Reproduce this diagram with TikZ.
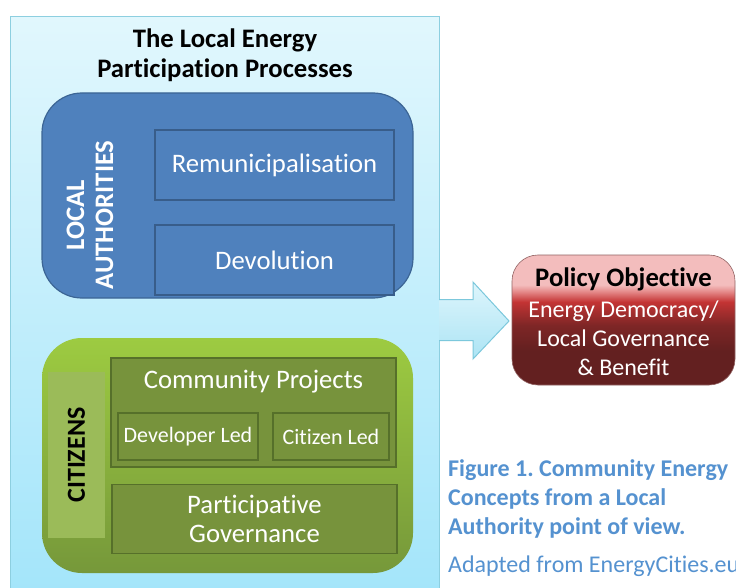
\documentclass[tikz,border=0pt]{standalone}
\usepackage{fontspec}
\setmainfont{Carlito}[Ligatures={NoCommon}]
\usetikzlibrary{calc}
\frenchspacing

\definecolor{outertop}{HTML}{E1F7FD}
\definecolor{outerbot}{HTML}{A3E5FA}
\definecolor{outerline}{HTML}{8DCFE0}
\definecolor{lablue}{HTML}{4F81BD}
\definecolor{labluedark}{HTML}{3C6595}
\definecolor{laboxline}{HTML}{385D8A}
\definecolor{greentop}{HTML}{9DCB41}
\definecolor{greenbot}{HTML}{76983A}
\definecolor{citstrip}{HTML}{9BBB59}
\definecolor{olive}{HTML}{77933C}
\definecolor{oliveline}{HTML}{56702A}
\definecolor{arrowtop}{HTML}{DDF5FC}
\definecolor{arrowbot}{HTML}{ACE4F4}
\definecolor{arrowline}{HTML}{7CC8DC}
\definecolor{pdark}{HTML}{632020}
\definecolor{pmid}{HTML}{7E2626}
\definecolor{pred}{HTML}{C43434}
\definecolor{ppinkb}{HTML}{E58A8A}
\definecolor{ppink}{HTML}{F3BDBD}
\definecolor{captionblue}{HTML}{5592D0}

% glossy red fill of the objective box (bottom to top)
\pgfdeclareverticalshading{policyshade}{100bp}{color(0bp)=(pdark); color(25bp)=(pdark); color(38bp)=(pdark); color(48bp)=(pmid); color(57bp)=(pred); color(61bp)=(ppinkb); color(63.5bp)=(ppink); color(100bp)=(ppink)}

\tikzset{
  box/.style={rectangle, inner sep=0pt, outer sep=0pt},
  body/.style={font=\fontsize{26.7}{29}\selectfont, align=center},
  bodybold/.style={body, font=\bfseries\fontsize{26.7}{29}\selectfont},
  labox/.style={box, draw=laboxline, line width=1.2pt, fill=lablue,
    text=white, body},
  olivebox/.style={box, draw=oliveline, line width=1.2pt, fill=olive,
    text=white, body},
  smallolive/.style={olivebox, font=\fontsize{22}{26}\selectfont},
  caption/.style={anchor=west, align=left, inner sep=0pt, text=captionblue},
}

\begin{document}
\begin{tikzpicture}[x=1pt, y=-1pt]
\useasboundingbox (0,0) rectangle (736,588);
\fill[white] (0,0) rectangle (736,588);

% outer panel
\node[box, draw=outerline, line width=1pt, top color=outertop, bottom color=outerbot,
  minimum width=429pt, minimum height=583pt] (outer) at (224.5,308.5) {};
\node[bodybold, font=\bfseries\fontsize{26.7}{30}\selectfont] (title) at (225,55)
  {The Local Energy\\Participation Processes};

% local authorities group
\node[box, draw=labluedark, line width=1.2pt, fill=lablue, rounded corners=40pt,
  minimum width=371pt, minimum height=205pt] (la) at (227.5,195.5) {};
\node[bodybold, text=white, rotate=90] (latext) at (90,215) {LOCAL\\AUTHORITIES};
\node[labox, minimum width=239pt, minimum height=70pt] (remun) at (274.5,165)
  {Remunicipalisation};
\node[labox, minimum width=239pt, minimum height=70pt] (devol) at (274.5,260)
  {Devolution};

% citizens group
\node[box, top color=greentop, bottom color=greenbot, rounded corners=40pt,
  minimum width=371pt, minimum height=235pt] (cit) at (227.5,455.5) {};
\node[box, fill=citstrip, minimum width=57pt, minimum height=166pt]
  (citstrip) at (76.5,455) {};
\node[bodybold, font=\bfseries\fontsize{26}{28}\selectfont, rotate=90]
  (cittext) at (citstrip) {CITIZENS};
\node[olivebox, minimum width=285pt, minimum height=109pt] (comm) at (253.5,412.5) {};
\node[body, text=white] (commtext) at (253.5,382) {Community Projects};
\node[smallolive, minimum width=140pt, minimum height=47pt] (dev) at (188,436.5)
  {Developer Led};
\node[smallolive, minimum width=116pt, minimum height=47pt] (citled) at (331,436.5)
  {Citizen Led};
\node[olivebox, minimum width=285pt, minimum height=69pt] (part) at (254.5,519)
  {Participative\\Governance};

% policy objective
\node[box, draw=pdark!70, line width=0.6pt, shading=policyshade, rounded corners=26pt,
  minimum width=223pt, minimum height=130pt] (policy) at (623.5,320) {};
\node[bodybold] (ptitle) at (623.5,279) {Policy Objective};
\node[body, text=white, font=\fontsize{24}{29}\selectfont] (pbody) at (623.5,338.5)
  {Energy Democracy/\\Local Governance\\\&~Benefit};

% block arrow from the panel to the objective
\coordinate (atail) at (outer.east |- policy.west);
\coordinate (atip) at ($(policy.west)+(-3,1)$);
\path[draw=arrowline, line width=1pt, top color=arrowtop, bottom color=arrowbot]
  ($(atail)+(0,-20.5)$) -- ($(atail)+(34,-20.5)$) -- ($(atail)+(34,-38)$)
  -- (atip) -- ($(atail)+(34,39)$) -- ($(atail)+(34,20.5)$)
  -- ($(atail)+(0,20.5)$);

% caption
\node[caption, font=\bfseries\fontsize{24}{29}\selectfont] (cap) at (448,499)
  {Figure 1. Community Energy\\Concepts from a Local\\Authority point of view.};
\node[caption, font=\fontsize{24}{29}\selectfont]
  (src) at (448,566) {Adapted from EnergyCities.eu};
\end{tikzpicture}
\end{document}
